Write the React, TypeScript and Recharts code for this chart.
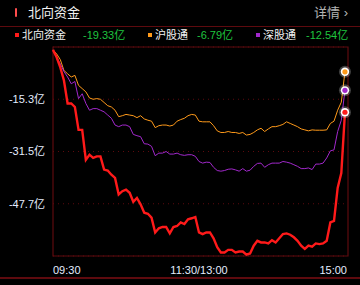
import { LineChart, Line, XAxis, YAxis, CartesianGrid, ReferenceArea } from "recharts"

// one sample every 3 minutes, 09:30 -> 15:00 (trading minutes)
const STEP = 3

const northFlow = [
    0, -2.3, -5.4, -9.5, -16.6, -16.6, -17.7, -24.8, -24.8, -34.1,
    -32.5, -33.5, -33.0, -33.0, -37.1, -37.4, -38.7, -39.7, -44.8, -43.8,
    -43.3, -44.3, -47.1, -45.9, -47.9, -50.5, -50.8, -52.0, -56.6, -55.3,
    -54.9, -54.9, -56.9, -54.9, -54.6, -53.5, -54.0, -52.5, -52.2, -51.8,
    -56.6, -57.1, -56.6, -56.6, -58.4, -61.2, -62.8, -62.8, -62.0, -62.0,
    -62.8, -62.5, -62.5, -63.5, -63.1, -60.7, -59.2, -59.7, -59.7, -60.0,
    -59.0, -59.7, -58.4, -57.1, -56.9, -57.3, -58.1, -59.2, -60.7, -61.7,
    -60.7, -61.0, -60.0, -60.2, -60.0, -59.2, -53.5, -53.0, -42.8, -38.2,
    -19.33,
]

const huFlow = [
    0, -1.25, -3.0, -6.4, -7.4, -8.4, -7.9, -11.0, -12.0, -13.0,
    -14.9, -15.3, -15.1, -15.3, -16.3, -17.3, -17.7, -18.7, -20.7, -20.4,
    -20.0, -20.2, -20.4, -21.0, -20.4, -21.4, -21.8, -22.1, -24.1, -23.5,
    -23.3, -23.3, -23.6, -23.3, -22.1, -21.6, -21.2, -20.4, -20.0, -20.2,
    -22.1, -22.3, -22.3, -22.3, -23.5, -25.1, -25.6, -25.6, -25.3, -25.6,
    -25.6, -25.9, -25.6, -26.4, -26.2, -25.6, -24.8, -24.3, -25.3, -24.5,
    -23.8, -23.8, -23.5, -23.1, -22.3, -22.8, -23.3, -23.8, -24.5, -24.8,
    -25.1, -24.8, -24.9, -24.9, -24.9, -24.8, -22.8, -22.1, -18.7, -16.2,
    -6.79,
]

const shenFlow = [
    0, -2.3, -4.3, -6.7, -8.4, -10.5, -9.8, -15.1, -13.6, -16.6,
    -18.7, -18.2, -18.2, -18.7, -19.2, -20.2, -21.2, -23.3, -23.8, -23.3,
    -23.3, -23.8, -26.2, -26.6, -26.9, -29.1, -29.2, -29.9, -32.8, -32.0,
    -32.0, -31.5, -32.3, -32.3, -32.0, -32.5, -32.7, -32.5, -32.5, -33.0,
    -34.6, -35.1, -34.8, -34.9, -36.4, -37.4, -37.6, -37.4, -37.0, -36.9,
    -37.2, -37.6, -36.8, -37.6, -37.3, -36.1, -35.2, -35.1, -36.4, -35.6,
    -35.1, -35.1, -35.1, -34.6, -34.8, -35.1, -35.6, -36.1, -36.8, -36.8,
    -36.6, -37.1, -35.4, -35.4, -35.1, -33.5, -31.3, -31.0, -25.3, -21.8,
    -12.54,
]

const yTicks = [-15.3, -31.5, -47.7]
const xTicks = [0, 120, 240]
const xTickLabels = ["09:30", "11:30/13:00", "15:00"]

const legendItems = [
    { name: "北向资金", value: "-19.33亿", color: "#ff1a1a", left: 15, valueLeft: 83 },
    { name: "沪股通", value: "-6.79亿", color: "#ff9a1a", left: 148, valueLeft: 197 },
    { name: "深股通", value: "-12.54亿", color: "#a228cc", left: 256, valueLeft: 306 },
]

const data = northFlow.map((v, i) => ({
    t: i * STEP,
    north: v,
    hu: huFlow[i],
    shen: shenFlow[i],
}))

const FONT = '"Liberation Sans", Arial, "Noto Sans CJK SC", sans-serif'
const DARK_RED = "#5e0a0e"

const endDot = (color: string) => (props: any) => {
    const { cx, cy, index } = props
    if (index !== data.length - 1) return <g key={`d${index}`} />
    return (
        <g key={`d${index}`}>
            <circle cx={cx} cy={cy} r={6} fill="#ffffff" opacity={0.25} />
            <circle cx={cx} cy={cy} r={4.2} fill="#ffffff" />
            <circle cx={cx} cy={cy} r={2.6} fill={color} />
        </g>
    )
}

const XTick = (props: any) => {
    const { x, y, payload, index } = props
    const anchor = index === 0 ? "start" : index === 2 ? "end" : "middle"
    const dx = index === 2 ? 2 : 0
    return (
        <text x={x + dx} y={y + 10} textAnchor={anchor} fill="#e4edff" fontSize={11} fontFamily={FONT}>
            {xTickLabels[xTicks.indexOf(payload.value)]}
        </text>
    )
}

const App = () => {
    return (
        <div style={{ position: "absolute", left: 0, top: 0, width: 360, height: 285, background: "#000", fontFamily: FONT, overflow: "hidden" }}>
            {/* header */}
            <div style={{ position: "absolute", left: 15, top: 8, width: 2, height: 9, background: "#ff4d4d", borderRadius: 1 }} />
            <div style={{ position: "absolute", left: 28, top: 4, fontSize: 13, color: "#f2f2f2", lineHeight: "18px" }}>北向资金</div>
            <div style={{ position: "absolute", right: 12, top: 4, fontSize: 13, color: "#b4b4b4", lineHeight: "18px" }}>详情 ›</div>
            <div style={{ position: "absolute", left: 0, top: 26, width: 360, height: 1, background: DARK_RED }} />

            {/* legend */}
            {legendItems.map((item) => (
                <div key={item.name}>
                    <div style={{ position: "absolute", left: item.left, top: 33, width: 4, height: 4, background: item.color }} />
                    <div style={{ position: "absolute", left: item.left + 7, top: 28, fontSize: 11, color: "#f2f2f2", lineHeight: "15px" }}>{item.name}</div>
                    <div style={{ position: "absolute", left: item.valueLeft, top: 28, fontSize: 11, color: "#1fc43f", lineHeight: "15px" }}>{item.value}</div>
                </div>
            ))}

            <div style={{ position: "absolute", left: 0, top: 0 }}>
                <LineChart width={360} height={285} data={data} margin={{ top: 47, right: 12, left: 0, bottom: 9 }}>
                    <CartesianGrid vertical={false} stroke={DARK_RED} strokeDasharray="1 4" />
                    <XAxis
                        dataKey="t"
                        type="number"
                        domain={[0, 242.5]}
                        ticks={xTicks}
                        tick={<XTick />}
                        tickLine={false}
                        axisLine={false}
                        height={20}
                    />
                    <YAxis
                        type="number"
                        domain={[-63.9, 0.9]}
                        ticks={yTicks}
                        width={53}
                        tickLine={false}
                        axisLine={false}
                        tickFormatter={(v: number) => `${v}亿`}
                        tick={{ fill: "#e4edff", fontSize: 11, fontFamily: FONT }}
                        tickMargin={2}
                    />
                    <ReferenceArea x1={0} x2={242.5} y1={-63.9} y2={0.9} fill="none" stroke={DARK_RED} strokeWidth={1.2} ifOverflow="visible" />
                    <Line type="linear" dataKey="hu" stroke="#ff9a1a" strokeWidth={1} dot={endDot("#ff9a1a")} isAnimationActive={false} />
                    <Line type="linear" dataKey="shen" stroke="#a228cc" strokeWidth={1} dot={endDot("#a228cc")} isAnimationActive={false} />
                    <Line type="linear" dataKey="north" stroke="#ff1a1a" strokeWidth={2.4} dot={endDot("#ff1a1a")} isAnimationActive={false} />
                </LineChart>
            </div>

            <div style={{ position: "absolute", left: 0, top: 277, width: 360, height: 2, background: DARK_RED }} />
        </div>
    )
}

export default App
